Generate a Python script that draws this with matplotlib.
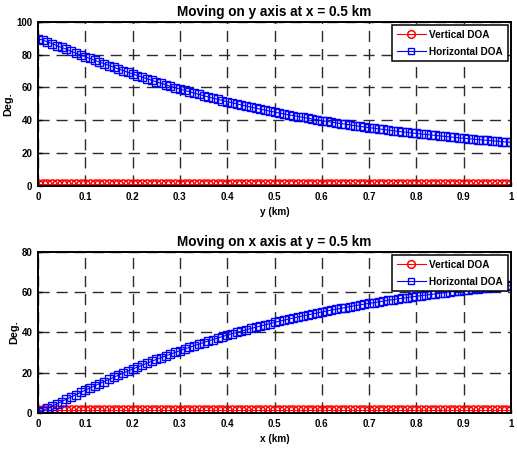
import numpy as np
import matplotlib
matplotlib.use("Agg")
import matplotlib.pyplot as plt

plt.rcParams['font.family'] = ['Liberation Sans', 'DejaVu Sans']
plt.rcParams['font.weight'] = 'bold'

# position along the track (km), 101 samples
pos_km = np.linspace(0, 1, 101)

# top panel: moving on y at x = 0.5 km
horiz_top = [
    89.5, 88.9, 87.7, 86.6, 85.4, 84.3, 83.2, 82.0, 80.9, 79.8,
    78.7, 77.6, 76.5, 75.4, 74.4, 73.3, 72.3, 71.2, 70.2, 69.2,
    68.2, 67.2, 66.3, 65.3, 64.4, 63.4, 62.5, 61.6, 60.7, 59.9,
    59.0, 58.2, 57.4, 56.6, 55.8, 55.0, 54.2, 53.5, 52.8, 52.0,
    51.3, 50.7, 50.0, 49.3, 48.7, 48.0, 47.4, 46.8, 46.2, 45.6,
    45.0, 44.4, 43.9, 43.3, 42.8, 42.3, 41.8, 41.3, 40.8, 40.3,
    39.8, 39.3, 38.9, 38.4, 38.0, 37.6, 37.2, 36.7, 36.3, 35.9,
    35.5, 35.2, 34.8, 34.4, 34.0, 33.7, 33.3, 33.0, 32.7, 32.3,
    32.0, 31.7, 31.4, 31.1, 30.8, 30.5, 30.2, 29.9, 29.6, 29.3,
    29.1, 28.8, 28.5, 28.3, 28.0, 27.8, 27.5, 27.3, 27.0, 26.8,
    26.6,
]
vert_top = [1.5] * 101

# bottom panel: moving on x at y = 0.5 km
horiz_bot = [
    0.4, 1.1, 2.3, 3.4, 4.6, 5.7, 6.8, 8.0, 9.1, 10.2,
    11.3, 12.4, 13.5, 14.6, 15.6, 16.7, 17.7, 18.8, 19.8, 20.8,
    21.8, 22.8, 23.7, 24.7, 25.6, 26.6, 27.5, 28.4, 29.2, 30.1,
    31.0, 31.8, 32.6, 33.4, 34.2, 35.0, 35.8, 36.5, 37.2, 38.0,
    38.7, 39.4, 40.0, 40.7, 41.3, 42.0, 42.6, 43.2, 43.8, 44.4,
    45.0, 45.6, 46.1, 46.7, 47.2, 47.7, 48.2, 48.7, 49.2, 49.7,
    50.2, 50.7, 51.1, 51.6, 52.0, 52.4, 52.9, 53.3, 53.7, 54.1,
    54.5, 54.8, 55.2, 55.6, 56.0, 56.3, 56.7, 57.0, 57.3, 57.7,
    58.0, 58.3, 58.6, 58.9, 59.2, 59.5, 59.8, 60.1, 60.4, 60.7,
    60.9, 61.2, 61.5, 61.7, 62.0, 62.2, 62.5, 62.7, 63.0, 63.2,
    63.4,
]
vert_bot = [1.5] * 101

x_ticks = [0, 0.1, 0.2, 0.3, 0.4, 0.5, 0.6, 0.7, 0.8, 0.9, 1]
x_ticklabels = ['0', '0.1', '0.2', '0.3', '0.4', '0.5', '0.6', '0.7', '0.8', '0.9', '1']


def draw_panel(ax, vert, horiz, title, xlabel, yticks):
    ax.plot(pos_km, vert, color='red', marker='o', markersize=6.5, markerfacecolor='none',
            markeredgewidth=1.1, linewidth=0.8, label='Vertical DOA')
    ax.plot(pos_km, horiz, color='blue', marker='s', markersize=5.5, markerfacecolor='none',
            markeredgewidth=1.0, linewidth=0.8, label='Horizontal DOA')
    ax.set_xlim(0, 1)
    ax.set_ylim(yticks[0], yticks[-1])
    ax.set_xticks(x_ticks)
    ax.set_xticklabels(x_ticklabels)
    ax.set_yticks(yticks)
    ax.tick_params(labelsize=7, direction='in', length=3, width=1, pad=4)
    ax.grid(True, color='#2a2a2a', linestyle=(0, (8, 5)), linewidth=1)
    for s in ax.spines.values():
        s.set_linewidth(1.4)
    ax.set_title(title, fontsize=9.8, fontweight='bold', pad=4)
    ax.set_xlabel(xlabel, fontsize=7.2, fontweight='bold', labelpad=4)
    ax.set_ylabel('Deg.', fontsize=7.8, fontweight='bold', labelpad=2)
    leg = ax.legend(loc='upper right', fontsize=7.2, handlelength=2.9, borderpad=0.45,
                    labelspacing=0.7, handletextpad=0.35, fancybox=False, framealpha=1,
                    edgecolor='black', borderaxespad=0.35, markerscale=0.85)
    leg.get_frame().set_linewidth(1.1)


fig = plt.figure(figsize=(5.17, 4.49), dpi=100)
ax1 = fig.add_axes([0.0735, 0.5857, 0.915, 0.366])
ax2 = fig.add_axes([0.0735, 0.0802, 0.915, 0.3586])

draw_panel(ax1, vert_top, horiz_top, 'Moving on y axis at x = 0.5 km', 'y (km)',
           [0, 20, 40, 60, 80, 100])
draw_panel(ax2, vert_bot, horiz_bot, 'Moving on x axis at y = 0.5 km', 'x (km)',
           [0, 20, 40, 60, 80])

fig.savefig('out.png', dpi=100)
